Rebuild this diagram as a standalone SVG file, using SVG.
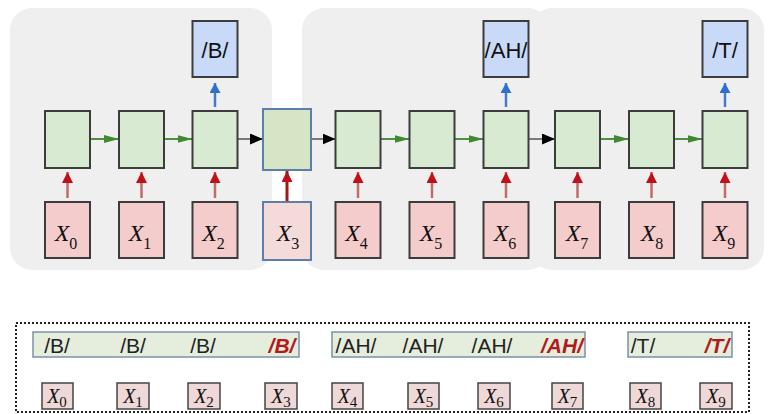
<svg xmlns="http://www.w3.org/2000/svg" width="774" height="414" viewBox="0 0 774 414">
<style>
.panel{fill:#efefef}
.cell{fill:#d9ead3;stroke:#3c3c3c;stroke-width:2}
.inp{fill:#f4cccc;stroke:#3c3c3c;stroke-width:2}
.out{fill:#c9daf8;stroke:#3c3c3c;stroke-width:2}
.lbl{font-family:"Liberation Sans","Open Sans",sans-serif;font-size:22px;fill:#111;text-anchor:middle}
.x{font-family:"Liberation Serif","DejaVu Serif",serif;font-size:24px;fill:#111;text-anchor:middle}
.xs{font-family:"Liberation Serif","DejaVu Serif",serif;font-size:20px;fill:#111;text-anchor:middle}
.g{stroke:#4f8f3f;stroke-width:2;fill:none}
.k{stroke:#555;stroke-width:1.5;fill:none}
.r{stroke:#c46a6a;stroke-width:2.5;fill:none}
.b{stroke:#4a78c8;stroke-width:2.5;fill:none}
.bar{fill:#e5eddc;stroke:#7d90a8;stroke-width:1.5}
.bl{font-family:"Liberation Sans","Open Sans",sans-serif;font-size:21px;fill:#222;text-anchor:middle}
.red{fill:#b01c1c;font-weight:bold;font-style:italic}
.sb{fill:#efd8d8;stroke:#444;stroke-width:1.5}
</style>
<defs>
<marker id="ag" markerUnits="userSpaceOnUse" markerWidth="16" markerHeight="10" refX="15" refY="4" orient="auto"><path d="M0,0 L15,4 L0,8 z" fill="#3f8a30"/></marker>
<marker id="ak" markerUnits="userSpaceOnUse" markerWidth="14" markerHeight="12" refX="13" refY="5.5" orient="auto"><path d="M0,0 L13,5.5 L0,11 z" fill="#000"/></marker>
<marker id="ar" markerUnits="userSpaceOnUse" markerWidth="12" markerHeight="12" refX="11" refY="5.5" orient="auto"><path d="M0,0 L11,5.5 L0,11 z" fill="#c0101a"/></marker>
<marker id="ab" markerUnits="userSpaceOnUse" markerWidth="12" markerHeight="12" refX="10" refY="5.5" orient="auto"><path d="M0,0 L10,5.5 L0,11 z" fill="#2f6fd0"/></marker>
</defs>
<rect width="774" height="414" fill="#fff"/>
<g id="panels">
<rect class="panel" x="10" y="8" width="262" height="262" rx="22"/>
<rect class="panel" x="302" y="8" width="248" height="262" rx="22"/>
<rect class="panel" x="530" y="8" width="234" height="262" rx="22"/>
</g>
<g id="connectors">
<line class="g" x1="90" y1="139" x2="119" y2="139" marker-end="url(#ag)"/>
<line class="g" x1="164" y1="139" x2="192.5" y2="139" marker-end="url(#ag)"/>
<line class="k" x1="237.5" y1="139" x2="263" y2="139" marker-end="url(#ak)"/>
<line class="k" x1="311" y1="139" x2="335.5" y2="139" marker-end="url(#ak)"/>
<line class="g" x1="380.5" y1="139" x2="409.5" y2="139" marker-end="url(#ag)"/>
<line class="g" x1="454.5" y1="139" x2="483.5" y2="139" marker-end="url(#ag)"/>
<line class="k" x1="528.5" y1="139" x2="555" y2="139" marker-end="url(#ak)"/>
<line class="g" x1="600" y1="139" x2="629" y2="139" marker-end="url(#ag)"/>
<line class="g" x1="674" y1="139" x2="702.5" y2="139" marker-end="url(#ag)"/>
<line class="r" x1="67.5" y1="198" x2="67.5" y2="172" marker-end="url(#ar)"/>
<line class="r" x1="141.5" y1="198" x2="141.5" y2="172" marker-end="url(#ar)"/>
<line class="r" x1="215" y1="198" x2="215" y2="172" marker-end="url(#ar)"/>
<line x1="287" y1="202" x2="287" y2="171" stroke="#a31818" stroke-width="3" marker-end="url(#ar)"/>
<line class="r" x1="358" y1="198" x2="358" y2="172" marker-end="url(#ar)"/>
<line class="r" x1="432" y1="198" x2="432" y2="172" marker-end="url(#ar)"/>
<line class="r" x1="506" y1="198" x2="506" y2="172" marker-end="url(#ar)"/>
<line class="r" x1="577.5" y1="198" x2="577.5" y2="172" marker-end="url(#ar)"/>
<line class="r" x1="651.5" y1="198" x2="651.5" y2="172" marker-end="url(#ar)"/>
<line class="r" x1="725" y1="198" x2="725" y2="172" marker-end="url(#ar)"/>
<line class="b" x1="215" y1="107" x2="215" y2="83" marker-end="url(#ab)"/>
<line class="b" x1="506" y1="107" x2="506" y2="83" marker-end="url(#ab)"/>
<line class="b" x1="725" y1="107" x2="725" y2="83" marker-end="url(#ab)"/>
</g>
<g id="h0"><rect class="cell" x="45" y="111" width="45" height="57"/></g>
<g id="h1"><rect class="cell" x="119" y="111" width="45" height="57"/></g>
<g id="h2"><rect class="cell" x="192.5" y="111" width="45" height="57"/></g>
<g id="h3"><rect x="263" y="109" width="48" height="61" fill="#d6e5c6" stroke="#5b7fa8" stroke-width="2"/></g>
<g id="h4"><rect class="cell" x="335.5" y="111" width="45" height="57"/></g>
<g id="h5"><rect class="cell" x="409.5" y="111" width="45" height="57"/></g>
<g id="h6"><rect class="cell" x="483.5" y="111" width="45" height="57"/></g>
<g id="h7"><rect class="cell" x="555" y="111" width="45" height="57"/></g>
<g id="h8"><rect class="cell" x="629" y="111" width="45" height="57"/></g>
<g id="h9"><rect class="cell" x="702.5" y="111" width="45" height="57"/></g>
<g id="o2"><rect class="out" x="192.5" y="21" width="45" height="56"/><text class="lbl" x="215" y="58">/B/</text></g>
<g id="o6"><rect class="out" x="483.5" y="21" width="45" height="56"/><text class="lbl" x="506" y="58">/AH/</text></g>
<g id="o9"><rect class="out" x="702.5" y="21" width="45" height="56"/><text class="lbl" x="725" y="58">/T/</text></g>
<g id="x0"><rect class="inp" x="45" y="202" width="45" height="56"/><text class="x" x="66" y="241"><tspan font-style="italic">X</tspan><tspan font-size="16" dy="8">0</tspan></text></g>
<g id="x1"><rect class="inp" x="119" y="202" width="45" height="56"/><text class="x" x="140" y="241"><tspan font-style="italic">X</tspan><tspan font-size="16" dy="8">1</tspan></text></g>
<g id="x2"><rect class="inp" x="192.5" y="202" width="45" height="56"/><text class="x" x="213.5" y="241"><tspan font-style="italic">X</tspan><tspan font-size="16" dy="8">2</tspan></text></g>
<g id="x3"><rect x="263" y="202" width="48" height="58" fill="#f5dada" stroke="#5b7fa8" stroke-width="2"/><text class="x" x="288" y="241"><tspan font-style="italic">X</tspan><tspan font-size="16" dy="8">3</tspan></text></g>
<g id="x4"><rect class="inp" x="335.5" y="202" width="45" height="56"/><text class="x" x="356.5" y="241"><tspan font-style="italic">X</tspan><tspan font-size="16" dy="8">4</tspan></text></g>
<g id="x5"><rect class="inp" x="409.5" y="202" width="45" height="56"/><text class="x" x="431" y="241"><tspan font-style="italic">X</tspan><tspan font-size="16" dy="8">5</tspan></text></g>
<g id="x6"><rect class="inp" x="483.5" y="202" width="45" height="56"/><text class="x" x="505" y="241"><tspan font-style="italic">X</tspan><tspan font-size="16" dy="8">6</tspan></text></g>
<g id="x7"><rect class="inp" x="555" y="202" width="45" height="56"/><text class="x" x="577" y="241"><tspan font-style="italic">X</tspan><tspan font-size="16" dy="8">7</tspan></text></g>
<g id="x8"><rect class="inp" x="629" y="202" width="45" height="56"/><text class="x" x="652" y="241"><tspan font-style="italic">X</tspan><tspan font-size="16" dy="8">8</tspan></text></g>
<g id="x9"><rect class="inp" x="702.5" y="202" width="45" height="56"/><text class="x" x="724" y="241"><tspan font-style="italic">X</tspan><tspan font-size="16" dy="8">9</tspan></text></g>
<g id="summary">
<rect x="16" y="323" width="733" height="89" fill="none" stroke="#222" stroke-width="2" stroke-dasharray="2 2"/>
<rect class="bar" x="33" y="332" width="266" height="25"/>
<rect class="bar" x="332" y="332" width="253" height="25"/>
<rect class="bar" x="628" y="332" width="104" height="25"/>
<text class="bl" x="57" y="353">/B/</text>
<text class="bl" x="133" y="353">/B/</text>
<text class="bl" x="203" y="353">/B/</text>
<text class="bl red" x="282" y="353">/B/</text>
<text class="bl" x="356" y="353">/AH/</text>
<text class="bl" x="423" y="353">/AH/</text>
<text class="bl" x="492" y="353">/AH/</text>
<text class="bl red" x="562" y="353">/AH/</text>
<text class="bl" x="643" y="353">/T/</text>
<text class="bl red" x="717" y="353">/T/</text>
<rect class="sb" x="42" y="383" width="31" height="26"/><text class="xs" x="57" y="403"><tspan font-style="italic">X</tspan><tspan font-size="15" dy="4">0</tspan></text>
<rect class="sb" x="117" y="383" width="32" height="26"/><text class="xs" x="133" y="403"><tspan font-style="italic">X</tspan><tspan font-size="15" dy="4">1</tspan></text>
<rect class="sb" x="188" y="383" width="32" height="26"/><text class="xs" x="204" y="403"><tspan font-style="italic">X</tspan><tspan font-size="15" dy="4">2</tspan></text>
<rect class="sb" x="265" y="383" width="32" height="26"/><text class="xs" x="281" y="403"><tspan font-style="italic">X</tspan><tspan font-size="15" dy="4">3</tspan></text>
<rect class="sb" x="332" y="383" width="31" height="26"/><text class="xs" x="347.5" y="403"><tspan font-style="italic">X</tspan><tspan font-size="15" dy="4">4</tspan></text>
<rect class="sb" x="408" y="383" width="31" height="26"/><text class="xs" x="423.5" y="403"><tspan font-style="italic">X</tspan><tspan font-size="15" dy="4">5</tspan></text>
<rect class="sb" x="478" y="383" width="32" height="26"/><text class="xs" x="494" y="403"><tspan font-style="italic">X</tspan><tspan font-size="15" dy="4">6</tspan></text>
<rect class="sb" x="552" y="383" width="31" height="26"/><text class="xs" x="567.5" y="403"><tspan font-style="italic">X</tspan><tspan font-size="15" dy="4">7</tspan></text>
<rect class="sb" x="630" y="383" width="31" height="26"/><text class="xs" x="645.5" y="403"><tspan font-style="italic">X</tspan><tspan font-size="15" dy="4">8</tspan></text>
<rect class="sb" x="700" y="383" width="32" height="26"/><text class="xs" x="716" y="403"><tspan font-style="italic">X</tspan><tspan font-size="15" dy="4">9</tspan></text>
</g>
</svg>
